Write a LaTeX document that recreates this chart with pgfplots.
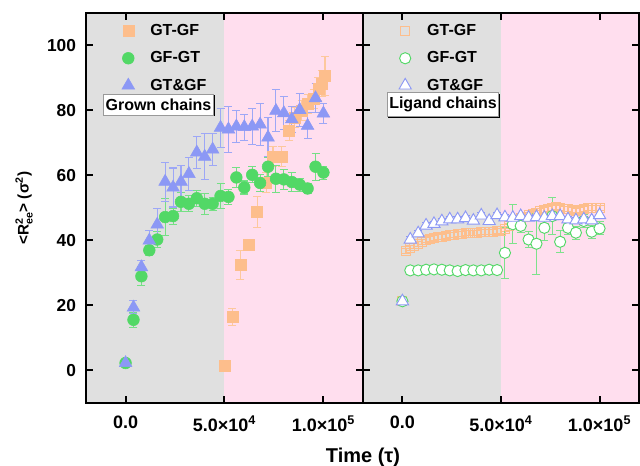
\documentclass[border=0pt]{standalone}
\usepackage{fontspec}
\setmainfont{Liberation Sans}
\usepackage{pgfplots}
\usepackage{pgfplotstable}
\pgfplotsset{compat=1.18}
\usetikzlibrary{shadows}

\definecolor{cGray}{RGB}{224,224,224}
\definecolor{cPink}{RGB}{255,222,238}
\definecolor{cOr}{RGB}{253,190,140}
\definecolor{cGr}{RGB}{82,216,102}
\definecolor{cBl}{RGB}{140,152,245}

\pgfplotstableread{
t v e
50000 1.5 0.5
54000 16.4 2.6
58000 32.4 4.5
62500 38.8 1.0
66500 48.8 4.7
71000 57.8 3.0
74500 65.8 3.0
79000 65.8 3.0
82700 73.8 3.0
85600 77.9 3.0
89000 80.0 3.0
92000 82.0 3.0
95000 83.5 3.0
97500 86.6 3.5
99300 88.3 4.0
100800 90.7 6.0
}\LOr

\pgfplotstableread{
t v e
0 2.3 0.8
4000 15.6 2.3
8000 29.0 2.9
12000 37.0 1.5
16000 40.3 2.6
20000 47.2 5.8
24000 47.5 2.5
28000 51.9 3.0
32000 51.3 2.5
36000 53.0 2.5
40000 51.3 3.3
44000 51.3 2.0
48000 53.7 3.8
52000 53.4 2.3
56000 59.4 3.0
60000 56.3 2.0
64000 60.2 2.5
68000 57.7 2.5
72000 62.7 3.0
76000 59.0 4.2
80000 58.8 3.0
84000 58.0 3.0
88000 57.2 2.0
92000 56.0 1.5
96000 62.7 4.1
100000 60.9 2.0
}\LGr

\pgfplotstableread{
t v e
0 2.3 0.5
4000 19.4 2
8000 31.8 2
12000 40.0 3
16000 44.9 5
20000 58.1 6
24000 56.3 6
28000 58.1 5
32000 60.5 5
36000 67.1 5
40000 65.8 7
44000 68.0 5
48000 74.7 6
52000 74.2 7
56000 75.1 5
60000 74.9 4
64000 75.1 5.5
68000 75.7 6.5
72000 71.7 6
76000 79.9 6.5
80000 79.2 5
84000 77.3 4
88000 80.2 5
92000 75.3 4
96000 83.8 4.5
100000 79.1 3
}\LBl

\pgfplotstableread{
t v e
0 21.3 0.5
2000 36.8 0.8
4000 37.6 0.8
6000 38.3 0.8
8000 39.0 0.8
10000 39.6 0.8
12000 40.2 0.8
14000 40.5 0.8
16000 40.7 0.8
18000 41.0 0.8
20000 41.2 0.8
22000 41.4 0.8
24000 41.6 0.8
26000 41.8 0.8
28000 42.0 0.8
30000 42.1 0.8
32000 42.2 0.8
34000 42.3 0.8
36000 42.4 0.8
38000 42.4 0.8
40000 42.5 0.8
42000 42.6 0.8
44000 42.6 0.8
46000 42.7 0.8
48000 42.8 0.8
50000 42.8 0.8
52000 43.5 0.8
54000 44.5 0.8
56000 45.5 0.8
58000 46.2 0.8
60000 46.8 0.8
62000 47.3 0.8
64000 47.8 0.8
66000 48.2 0.8
68000 48.5 0.8
70000 49.0 0.8
72000 49.4 0.8
74000 49.8 0.8
76000 50.0 0.8
78000 50.2 0.8
80000 50.1 0.8
82000 49.8 0.8
84000 49.6 0.8
86000 49.3 0.8
88000 49.0 0.8
90000 49.3 0.8
92000 49.7 0.8
94000 50.0 0.8
96000 50.1 0.8
98000 50.1 0.8
100000 50.0 0.8
}\ROr

\pgfplotstableread{
t v e
0 21.3 0.5
4000 30.8 0.8
8000 30.8 0.8
12000 31.0 0.8
16000 31.1 0.8
20000 31.0 0.8
24000 30.8 0.8
28000 30.6 0.8
32000 30.9 0.8
36000 30.8 0.8
40000 30.8 0.8
44000 31.0 0.8
48000 30.9 0.8
52000 36.2 7.8
56000 45.0 6.0
60000 44.5 2.0
64000 40.3 2.5
68000 39.0 9.4
72000 43.9 4.0
76000 47.5 5.7
80000 39.6 3.4
84000 43.9 2.0
88000 42.4 2.0
92000 46.0 2.0
96000 42.7 2.0
100000 43.7 2.0
}\RGr

\pgfplotstableread{
t v e
0 21.3 0.5
4000 40.3 0.8
8000 42.2 0.8
12000 44.6 0.8
16000 45.1 0.8
20000 45.9 0.8
24000 46.5 0.8
28000 46.5 0.8
32000 46.9 0.8
36000 46.1 0.8
40000 47.7 0.8
44000 46.0 0.8
48000 47.8 0.8
52000 47.1 0.8
56000 47.0 0.8
60000 47.5 0.8
64000 47.0 0.8
68000 47.2 0.8
72000 47.0 0.8
76000 47.5 0.8
80000 47.5 0.8
84000 46.5 0.8
88000 46.2 0.8
92000 46.5 0.8
96000 46.2 0.8
100000 47.8 0.8
}\RBl

\tikzset{
  boxlab/.style={draw=black!40, fill=white, line width=0.6pt,
    font=\fontsize{12}{14}\selectfont\bfseries, inner xsep=1.5pt, inner ysep=3.5pt,
    drop shadow={opacity=1, fill=black, shadow xshift=0.9pt, shadow yshift=-0.9pt}},
}
\pgfplotsset{
  panel/.style={
    scale only axis, height=292.5pt,
    xmin=-20000, xmax=120000, ymin=-10, ymax=110,
    axis on top,
    axis line style={line width=1.5pt, black},
    scaled x ticks=false,
    xtick={0,50000,100000},
    xticklabels={0.0, 5.0×10\textsuperscript{4}, 1.0×10\textsuperscript{5}},
    ytick={0,20,...,100},
    tick align=inside, major tick length=5pt,
    every tick/.style={line width=1.5pt, black},
    /pgf/number format/assume math mode=true,
    xticklabel style={font=\fontsize{13.5}{15}\selectfont\bfseries, yshift=-6pt},
    yticklabel style={font=\fontsize{13}{15}\selectfont\bfseries, xshift=-4pt},
    legend cell align=left,
    legend style={draw=none, fill=none, inner sep=0pt, row sep=6.5pt,
      font=\fontsize{12}{14}\selectfont\bfseries,
      at={(axis description cs:0.094,0.978)}, anchor=north west},
  },
  lim/.style={legend image code/.code={\path[draw=none, fill=none] (-12pt,-3pt) (14.5pt,3pt);
     \draw[##1] plot coordinates {(0pt,0pt)};}},
  ebar/.style={error bars/.cd, y dir=both, y explicit,
    error bar style={color=#1, line width=0.8pt},
    error mark options={rotate=90, mark size=3pt, line width=0.8pt, color=#1}},
}

\begin{document}
\begin{tikzpicture}
\useasboundingbox (-64.5pt,-47.25pt) rectangle (415.5pt,302.25pt);
\begin{axis}[panel, width=207.75pt, at={(0pt,0pt)}, anchor=south west]
  \fill[cGray] (axis cs:-20000,-10) rectangle (axis cs:50000,110);
  \fill[cPink] (axis cs:50000,-10) rectangle (axis cs:120000,110);
  \addplot[only marks, lim, mark=square*, mark size=4.1pt, color=cOr, ebar=cOr!85]
    table[x=t, y=v, y error=e] {\LOr};
  \addlegendentry{GT-GF}
  \addplot[only marks, lim, mark=*, mark size=4.4pt, color=cGr, ebar=cGr!80]
    table[x=t, y=v, y error=e] {\LGr};
  \addlegendentry{GF-GT}
  \addplot[only marks, lim, mark=triangle*, mark size=5.5pt, color=cBl, ebar=cBl!85]
    table[x=t, y=v, y error=e] {\LBl};
  \addlegendentry{GT\&GF}
  \node[boxlab] at (axis description cs:0.2617,0.7654) {Grown chains};
\end{axis}
\begin{axis}[panel, width=207pt, at={(207.75pt,0pt)}, anchor=south west, yticklabels={}]
  \fill[cGray] (axis cs:-20000,-10) rectangle (axis cs:50000,110);
  \fill[cPink] (axis cs:50000,-10) rectangle (axis cs:120000,110);
  \addplot[only marks, lim, mark=square, mark size=3.4pt, color=cOr, line width=0.7pt,
    mark options={fill=white, fill opacity=0.6}, ebar=cOr]
    table[x=t, y=v, y error=e] {\ROr};
  \addlegendentry{GT-GF}
  \addplot[only marks, lim, mark=*, mark size=4.2pt, color=cGr, line width=0.7pt,
    mark options={fill=white}, ebar=cGr!75]
    table[x=t, y=v, y error=e] {\RGr};
  \addlegendentry{GF-GT}
  \addplot[only marks, lim, mark=triangle*, mark size=5.3pt, color=cBl, line width=0.7pt,
    mark options={fill=white}, ebar=cBl]
    table[x=t, y=v, y error=e] {\RBl};
  \addlegendentry{GT\&GF}
  \node[boxlab] at (axis description cs:0.29,0.7654) {Ligand chains};
\end{axis}
\node[font=\fontsize{15}{17}\selectfont\bfseries] at (207.75pt,-41pt) {Time (τ)};
\node[font=\fontsize{11.5}{14}\selectfont\bfseries, rotate=90] at (-46.5pt,146pt)
  {<R$^{\hbox{\fontsize{8}{9}\selectfont\bfseries 2}}_{\hbox{\fontsize{8}{9}\selectfont\bfseries ee}}$> (σ$^{\hbox{\fontsize{8}{9}\selectfont\bfseries 2}}$)};
\end{tikzpicture}
\end{document}
